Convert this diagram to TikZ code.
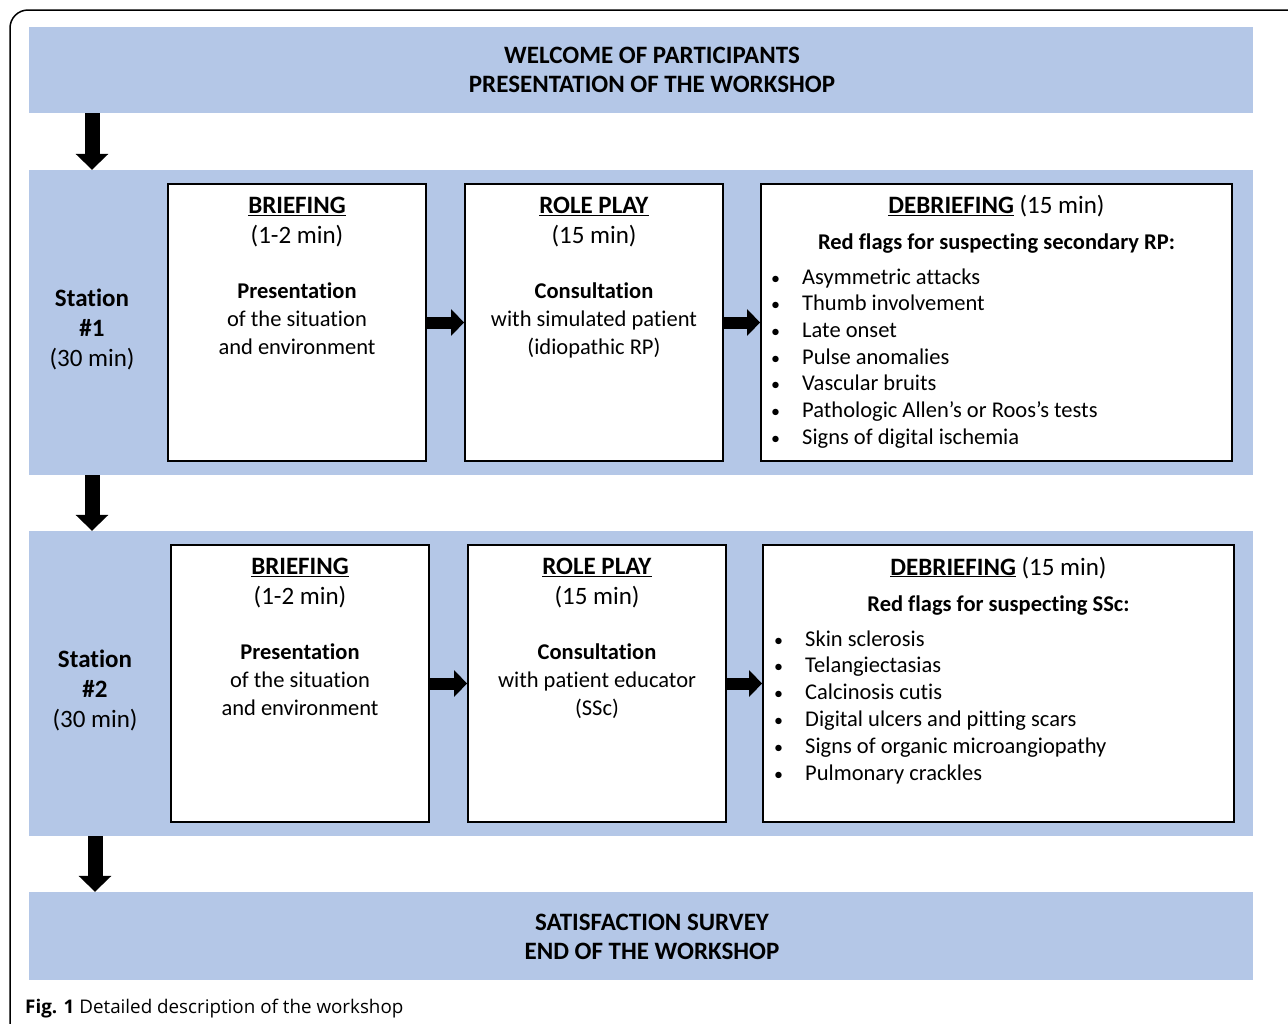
\documentclass[tikz,border=0pt]{standalone}
\usepackage{fontspec}
\setmainfont{Carlito}[Ligatures=NoCommon]
\newfontfamily\capfont{Open Sans}
\usetikzlibrary{arrows.meta,positioning}
\definecolor{bandblue}{HTML}{B4C7E7}
\newcommand{\bighead}[1]{{\fontsize{25}{28}\selectfont #1}}

\begin{document}
\begin{tikzpicture}[x=1pt,y=-1pt]
      \tikzstyle{band} = [fill=bandblue, minimum width=1224pt, inner sep=0pt]
      \tikzstyle{titletext} = [align=center, inner sep=0pt, font=\bfseries\fontsize{25}{29}\selectfont]
      \tikzstyle{stepbox} = [draw, line width=1.8pt, fill=white, minimum height=277pt, inner sep=0pt]
      \tikzstyle{boxtext} = [align=center, inner sep=0pt, font=\fontsize{22.5}{28}\selectfont]
      \tikzstyle{item} = [anchor=base west, inner sep=0pt, font=\fontsize{22.5}{26}\selectfont]
      \tikzstyle{vbig} = [line width=15pt, -{Triangle[length=16pt,width=32pt]}]
      \tikzstyle{hbig} = [line width=12pt, -{Triangle[length=13pt,width=26pt]}]
      \useasboundingbox (0,0) rectangle (1288,1023);
      \clip (0,0) rectangle (1288,1023);
      \draw[line width=1.5pt, rounded corners=18pt] (10,1040) -- (10,10) -- (1300,10);
      % bands
      \node[band, minimum height=86pt] (welcome) at (641,70) {};
      \node[band, minimum height=305pt] (st1) at (641,322.5) {};
      \node[band, minimum height=305pt] (st2) at (641,683.5) {};
      \node[band, minimum height=88pt] (survey) at (641,936) {};
      \node[titletext] (welcomet) at (652,70) {WELCOME OF PARTICIPANTS\\PRESENTATION OF THE WORKSHOP};
      \node[titletext] (surveyt) at (652,937) {SATISFACTION SURVEY\\END OF THE WORKSHOP};
      \node[boxtext, font=\fontsize{25}{30}\selectfont] (lab1) at (92,329) {\textbf{Station}\\\textbf{\#1}\\(30 min)};
      \node[boxtext, font=\fontsize{25}{30}\selectfont] (lab2) at (95,690) {\textbf{Station}\\\textbf{\#2}\\(30 min)};
      % station 1
      \node[stepbox, minimum width=258pt] (brief1) at (297,322.5) {};
      \node[stepbox, minimum width=258pt] (role1) at (594,322.5) {};
      \node[stepbox, minimum width=471pt] (debrief1) at (996.5,322.5) {};
      \node[boxtext, below=13.5pt of brief1.north] (brief1t)
        {\bighead{\underline{\textbf{BRIEFING}}}\\[2pt]\bighead{(1-2 min)}\\[27pt]\textbf{Presentation}\\of the situation\\and environment};
      \node[boxtext, below=13.5pt of role1.north] (role1t)
        {\bighead{\underline{\textbf{ROLE PLAY}}}\\[2pt]\bighead{(15 min)}\\[27pt]\textbf{Consultation}\\with simulated patient\\(idiopathic RP)};
      \node[boxtext, below=12pt of debrief1.north] (debrief1t)
        {\bighead{\underline{\textbf{DEBRIEFING}} (15 min)}\\[8pt]\textbf{Red flags for suspecting secondary RP:}};
      \foreach \t [count=\i from 0] in {Asymmetric attacks, Thumb involvement, Late onset, Pulse anomalies,
          Vascular bruits, Pathologic Allen’s or Roos’s tests, Signs of digital ischemia}
        \node[item] (d1i\i) at (802,284+26.7*\i) {\makebox[0pt][r]{{\fontsize{18}{20}\selectfont\textbullet}\hspace{22pt}}\t};
      % station 2
      \node[stepbox, minimum width=258pt] (brief2) at (300,683.5) {};
      \node[stepbox, minimum width=258pt] (role2) at (597,683.5) {};
      \node[stepbox, minimum width=471pt] (debrief2) at (998.5,683.5) {};
      \node[boxtext, below=13.5pt of brief2.north] (brief2t)
        {\bighead{\underline{\textbf{BRIEFING}}}\\[2pt]\bighead{(1-2 min)}\\[27pt]\textbf{Presentation}\\of the situation\\and environment};
      \node[boxtext, below=13.5pt of role2.north] (role2t)
        {\bighead{\underline{\textbf{ROLE PLAY}}}\\[2pt]\bighead{(15 min)}\\[27pt]\textbf{Consultation}\\with patient educator\\(SSc)};
      \node[boxtext, below=12.5pt of debrief2.north] (debrief2t)
        {\bighead{\underline{\textbf{DEBRIEFING}} (15 min)}\\[8.5pt]\textbf{Red flags for suspecting SSc:}};
      \foreach \t [count=\i from 0] in {Skin sclerosis, Telangiectasias, Calcinosis cutis,
          Digital ulcers and pitting scars, Signs of organic microangiopathy, Pulmonary crackles}
        \node[item] (d2i\i) at (805,646+26.8*\i) {\makebox[0pt][r]{{\fontsize{18}{20}\selectfont\textbullet}\hspace{22pt}}\t};
      % arrows
      \draw[vbig] (welcome.south -| lab1) -- (st1.north -| lab1);
      \draw[vbig] (st1.south -| lab1) -- (st2.north -| lab1);
      \draw[vbig] (st2.south -| lab2) -- (survey.north -| lab2);
      \draw[hbig] (brief1.east) -- (role1.west);
      \draw[hbig] (role1.east) -- (debrief1.west);
      \draw[hbig] (brief2.east) -- (role2.west);
      \draw[hbig] (role2.east) -- (debrief2.west);
      \node[anchor=base west, inner sep=0pt, font=\capfont\fontsize{18.8}{22}\selectfont] (caption) at (25,1013)
        {\textbf{Fig. 1} Detailed description of the workshop};
\end{tikzpicture}
\end{document}
